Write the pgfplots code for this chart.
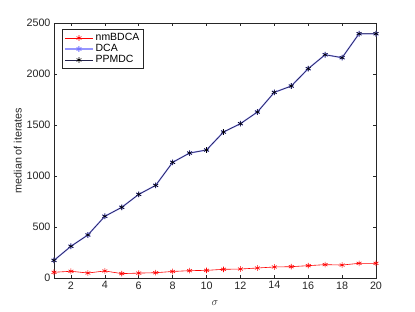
\documentclass[border=0pt]{standalone}
\usepackage{fontspec}
\setmainfont{Liberation Sans}
\usepackage{pgfplots}
\pgfplotsset{compat=1.18}
\definecolor{axgray}{rgb}{0.15,0.15,0.15}
\begin{document}
\begin{tikzpicture}
\begin{axis}[
  scale only axis, width=322bp, height=255bp,
  xmin=1, xmax=20, ymin=0, ymax=2500,
  xtick={2,4,...,20}, ytick={0,500,...,2500},
  tick align=inside, tick pos=both,
  major tick length=3.5bp,
  axis line style={axgray, line width=0.5bp},
  every tick/.style={axgray, line width=0.5bp},
  tick label style={font=\fontsize{10.8}{12}\selectfont, text=axgray},
  /pgf/number format/assume math mode=true,
  /pgf/number format/1000 sep={},
  xlabel={$\sigma$}, ylabel={median of iterates},
  label style={font=\fontsize{10.8}{12}\selectfont, text=axgray},
  xlabel style={yshift=-5bp},
  ylabel style={yshift=-2bp},
  legend style={at={(0.025,0.975)}, anchor=north west, draw=axgray, line width=0.5bp,
    font=\fontsize{10.5}{12}\selectfont, row sep=-1.8bp, inner sep=2bp},
  legend cell align=left,
  legend image code/.code={
    \draw[mark repeat=2,mark phase=2,#1] plot coordinates {(0bp,0bp) (14bp,0bp) (28bp,0bp)};},
]
\addplot[red, line width=0.6bp, mark=asterisk, mark size=2.8bp, mark options={line width=0.6bp}] coordinates {
(1,56)(2,66)(3,49)(4,69)(5,43)(6,48)(7,52)(8,64)(9,72)(10,75)
(11,85)(12,88)(13,98)(14,108)(15,111)(16,121)(17,131)(18,127)(19,144)(20,144)};
\addlegendentry{nmBDCA}
\addplot[color={rgb,255:red,150;green,150;blue,255}, line width=1.4bp, mark=asterisk, mark size=2.8bp, mark options={line width=1bp, color={rgb,255:red,120;green,120;blue,255}}] coordinates {
(1,173)(2,311)(3,422)(4,605)(5,693)(6,820)(7,908)(8,1134)(9,1225)(10,1255)
(11,1431)(12,1513)(13,1627)(14,1820)(15,1882)(16,2052)(17,2189)(18,2160)(19,2395)(20,2395)};
\addlegendentry{DCA}
\addplot[color={rgb,255:red,35;green,35;blue,75}, line width=0.6bp, mark=asterisk, mark size=2.8bp, mark options={line width=0.6bp, black}] coordinates {
(1,173)(2,311)(3,422)(4,605)(5,693)(6,820)(7,908)(8,1134)(9,1225)(10,1255)
(11,1431)(12,1513)(13,1627)(14,1820)(15,1882)(16,2052)(17,2189)(18,2160)(19,2395)(20,2395)};
\addlegendentry{PPMDC}
\end{axis}
\path (current axis.south west) ++(-54bp,-34bp) rectangle ++(415bp,312bp);
\end{tikzpicture}
\end{document}
